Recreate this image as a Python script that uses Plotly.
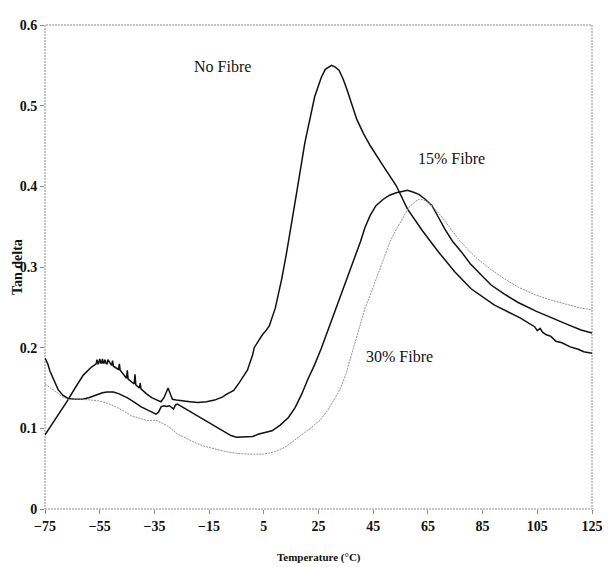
import plotly.graph_objects as go

# ---- data ----
t_nofibre = [-75, -73, -70, -67, -64, -61, -58, -56.3, -56.0, -55.6, -55.3, -55.0, -54.6, -54.3, -54.0, -53.7,
             -53.4, -53.1, -52.6, -52.3, -52.0, -50.6, -50.3, -50.0, -48.1, -47.8, -47.5, -45.2, -44.9, -44.6,
             -42.4, -42.1, -41.8, -40.5, -40.2, -39.9, -38, -36, -34, -32.6, -31.5, -30, -29, -28.4, -27, -25,
             -22, -19, -16, -13, -10, -8.7, -6, -3.9, -1, 0.9, 1.5, 3, 4.5, 6, 7, 9.2, 11.6, 13.4, 15, 17, 20,
             23.6, 26, 27.5, 29.8, 31, 32.5, 34, 35.5, 37, 39, 41.5, 44, 48.7, 53.4, 57.5, 63, 68.8, 74.8, 80.8,
             89.2, 98.7, 104, 105, 106, 107, 108.3, 110, 111.8, 114, 117, 120, 122, 125]
v_nofibre = [0.092, 0.102, 0.117, 0.133, 0.150, 0.166, 0.176, 0.180, 0.185, 0.180, 0.181, 0.186, 0.181, 0.181, 0.186, 0.181,
             0.181, 0.185, 0.180, 0.180, 0.185, 0.178, 0.184, 0.177, 0.173, 0.180, 0.172, 0.162, 0.172, 0.161,
             0.155, 0.167, 0.154, 0.150, 0.156, 0.149, 0.143, 0.138, 0.135, 0.133, 0.138, 0.150, 0.141, 0.136, 0.135, 0.134,
             0.133, 0.132, 0.133, 0.135, 0.139, 0.142, 0.147, 0.157, 0.172, 0.191, 0.200, 0.208, 0.216, 0.222, 0.227, 0.249,
             0.286, 0.319, 0.350, 0.392, 0.454, 0.511, 0.535, 0.545, 0.550, 0.548, 0.544, 0.533, 0.519, 0.503, 0.483,
             0.465, 0.450, 0.425, 0.401, 0.372, 0.345, 0.319, 0.294, 0.273, 0.253, 0.237, 0.226, 0.221, 0.224, 0.219,
             0.216, 0.214, 0.208, 0.206, 0.201, 0.198, 0.195, 0.193]

t_fibre15 = [-75, -74, -73.2, -71.5, -70.2, -68.5, -66.6, -64, -61.3, -59, -56.5, -54, -52.3, -50, -48.1, -45, -42.1,
             -40, -37.4, -35.5, -34.4, -33.5, -32.5, -31.5, -30.5, -29.5, -28.5, -28, -27.3, -26.6, -25, -22.5,
             -20.6, -17, -13.5, -10, -7, -5, -2, 1, 3.2, 6, 8, 11, 14, 16.5, 18.8, 21, 23.6, 26, 28.3, 30.7, 33.1,
             35.5, 37.9, 40.3, 42, 43.9, 46, 48.7, 51, 53.4, 56, 57.5, 59.5, 61.7, 64, 66.5, 68.8, 71.2, 74, 77.2,
             80.5, 84.4, 88, 92.7, 98, 104.7, 110, 116.6, 121, 125]
v_fibre15 = [0.187, 0.180, 0.171, 0.158, 0.148, 0.141, 0.137, 0.136, 0.136, 0.138, 0.1415, 0.144, 0.145, 0.145, 0.143,
             0.138, 0.132, 0.127, 0.1226, 0.119, 0.1177, 0.120, 0.127, 0.128, 0.127, 0.128, 0.125, 0.124, 0.129, 0.130,
             0.127, 0.122, 0.118, 0.110, 0.103, 0.096, 0.091, 0.089, 0.0895, 0.090, 0.093, 0.095, 0.097, 0.104, 0.1135,
             0.126, 0.142, 0.160, 0.179, 0.199, 0.220, 0.242, 0.265, 0.288, 0.310, 0.331, 0.349, 0.364, 0.376, 0.384,
             0.389, 0.392, 0.394, 0.395, 0.393, 0.390, 0.384, 0.376, 0.362, 0.347, 0.332, 0.319, 0.304, 0.290, 0.278,
             0.267, 0.256, 0.245, 0.237, 0.228, 0.222, 0.218]

t_fibre30 = [-75, -73, -70.8, -68.5, -66.6, -64, -61.3, -58, -55.3, -52, -49.3, -46, -43.4, -40, -37.4, -35.5, -34.4,
             -32, -30.2, -28, -26.6, -23.5, -20.6, -17, -13.5, -10, -5.1, 0, 5, 9, 13, 16.4, 19.5, 22.4, 25.5, 28.3,
             31, 33.1, 35, 36.7, 38.5, 40.3, 42, 43.9, 45.7, 47.5, 49.3, 51.1, 53.5, 55.8, 58.1, 60.6, 62, 63.5, 65.3,
             67.5, 70.1, 73, 76, 79.5, 83.2, 88, 92.7, 98, 104.7, 110, 116.6, 121, 125]
v_fibre30 = [0.155, 0.150, 0.144, 0.139, 0.136, 0.136, 0.136, 0.135, 0.134, 0.131, 0.127, 0.121, 0.1156, 0.112, 0.1095,
             0.110, 0.110, 0.106, 0.103, 0.097, 0.093, 0.088, 0.083, 0.078, 0.0746, 0.072, 0.069, 0.068, 0.068, 0.071,
             0.077, 0.0857, 0.093, 0.101, 0.110, 0.122, 0.137, 0.150, 0.167, 0.187, 0.209, 0.232, 0.249, 0.265, 0.282,
             0.298, 0.315, 0.331, 0.347, 0.360, 0.374, 0.382, 0.384, 0.383, 0.380, 0.372, 0.362, 0.349, 0.335, 0.322,
             0.310, 0.297, 0.286, 0.275, 0.265, 0.259, 0.253, 0.249, 0.247]

x_ticks = [-75, -55, -35, -15, 5, 25, 45, 65, 85, 105, 125]
y_ticks = [0, 0.1, 0.2, 0.3, 0.4, 0.5, 0.6]
y_ticklabels = ["0", "0.1", "0.2", "0.3", "0.4", "0.5", "0.6"]

series_labels = ["No Fibre", "15% Fibre", "30% Fibre"]
label_x = [-10.1, 73.6, 54.6]
label_y = [0.549, 0.434, 0.189]

serif = "Liberation Serif, Times New Roman, serif"

fig = go.Figure()
fig.add_trace(go.Scatter(x=t_nofibre, y=v_nofibre, mode="lines", name=series_labels[0],
                         line=dict(color="#111111", width=1.5)))
fig.add_trace(go.Scatter(x=t_fibre15, y=v_fibre15, mode="lines", name=series_labels[1],
                         line=dict(color="#111111", width=1.5)))
fig.add_trace(go.Scatter(x=t_fibre30, y=v_fibre30, mode="lines", name=series_labels[2],
                         line=dict(color="#909090", width=1.0, dash="2px,1px")))

for txt, lx, ly in zip(series_labels, label_x, label_y):
    fig.add_annotation(x=lx, y=ly, text=txt, showarrow=False,
                       font=dict(family=serif, size=16, color="#111111"))

# axis titles
fig.add_annotation(xref="paper", yref="paper", x=-0.051, y=0.50, text="Tan delta",
                   textangle=-90, showarrow=False, xanchor="center", yanchor="middle",
                   font=dict(family=serif, size=14, color="#111111", weight="bold"))
fig.add_annotation(xref="paper", yref="paper", x=0.5, y=-0.10, text="Temperature (°C)",
                   showarrow=False, xanchor="center", yanchor="middle",
                   font=dict(family=serif, size=11, color="#111111", weight="bold"))

# dotted frame
fig.add_shape(type="rect", xref="paper", yref="paper", x0=0, y0=0, x1=1, y1=1,
              line=dict(color="#8c8c8c", width=1, dash="2px,1px"), layer="below")

# the page body adds an 8px offset, so the figure is sized/margined to compensate
fig.update_layout(
    width=605, height=559,
    margin=dict(l=37, r=10, t=13, b=58),
    plot_bgcolor="white", paper_bgcolor="white",
    showlegend=False,
    xaxis=dict(range=[-75, 125], tickvals=x_ticks, ticks="outside", ticklen=4, tickcolor="#8c8c8c",
               showgrid=False, zeroline=False, showline=False, ticklabeloverflow="allow",
               tickfont=dict(family=serif, size=14, color="#111111", weight="bold")),
    yaxis=dict(range=[0, 0.6], tickvals=y_ticks, ticktext=y_ticklabels, ticks="outside", ticklen=4,
               tickcolor="#8c8c8c", showgrid=False, zeroline=False, showline=False, ticklabeloverflow="allow",
               tickfont=dict(family=serif, size=14, color="#111111", weight="bold")),
)

fig.write_html("out.html")
